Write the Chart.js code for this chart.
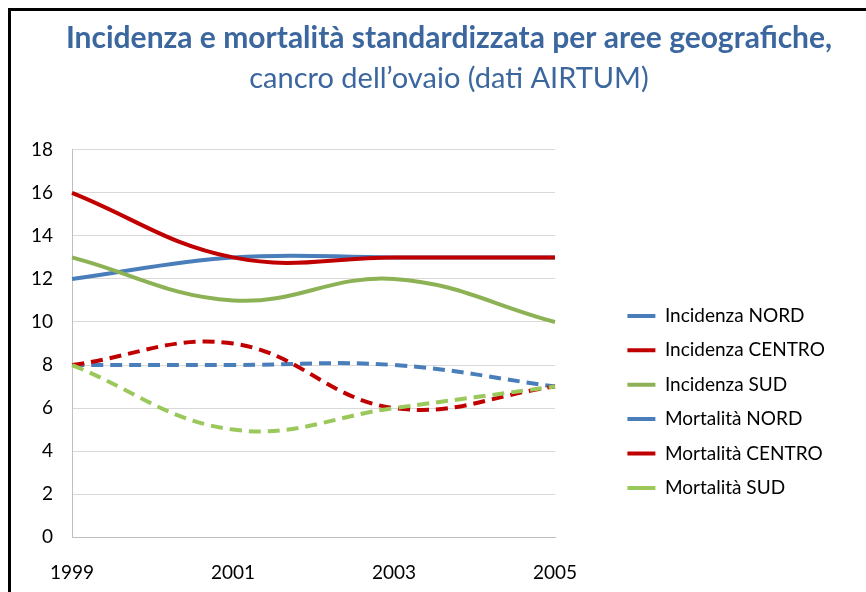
<!DOCTYPE html>
<html>
<head>
<meta charset="utf-8">
<script src="https://cdn.jsdelivr.net/npm/chart.js@4.4.1/dist/chart.umd.min.js"></script>
<style>
    html, body { margin: 0; padding: 0; background: #fff; }
    #wrap { position: relative; width: 866px; height: 592px; }
    #frame {
        position: absolute; left: 8px; top: 8px; right: -10px; bottom: -10px;
        border-left: 3px solid #000; border-top: 3px solid #000;
        pointer-events: none;
    }
</style>
</head>
<body>
<div id="wrap">
    <canvas id="lineChart" width="866" height="592"></canvas>
    <div id="frame"></div>
</div>
<script>
// Dati
const anni = ['1999', '2001', '2003', '2005'];
const incidenzaNord = [12, 13, 13, 13];
const incidenzaCentro = [16, 13, 13, 13];
const incidenzaSud = [13, 11, 12, 10];
const mortalitaNord = [8, 8, 8, 7];
const mortalitaCentro = [8, 9, 6, 7];
const mortalitaSud = [8, 5, 6, 7];

const BLU = '#4A7EBB';
const ROSSO = '#C00000';
const VERDE = '#8DB255';
const VERDE_CHIARO = '#9BC85A';

function serie(label, data, color, dash) {
    return {
        label: label,
        data: data,
        borderColor: color,
        backgroundColor: color,
        borderWidth: 4,
        borderDash: dash ? [12, 7] : [],
        pointRadius: 0,
        fill: false,
        tension: 0.4
    };
}

// in ordine inverso: come in Excel l'ultima serie sta sopra
const datasets = [
    serie('Mortalità SUD', mortalitaSud, VERDE_CHIARO, true),
    serie('Mortalità CENTRO', mortalitaCentro, ROSSO, true),
    serie('Mortalità NORD', mortalitaNord, BLU, true),
    serie('Incidenza SUD', incidenzaSud, VERDE, false),
    serie('Incidenza CENTRO', incidenzaCentro, ROSSO, false),
    serie('Incidenza NORD', incidenzaNord, BLU, false)
];

const font = 'Lato, "Open Sans", sans-serif';
const LEGENDA_X = 612; // bordo sinistro della legenda

// il titolo nel originale è centrato su tutta la cornice, non sull'area del grafico
const centraTitolo = {
    id: 'centraTitolo',
    afterLayout(chart) {
        chart.boxes.filter(b => b.position === 'top').forEach(b => {
            b.left = 32;
            b.right = 866;
            b.width = 834;
        });
    }
};

const config = {
    type: 'line',
    data: { labels: anni, datasets: datasets },
    options: {
        responsive: false,
        animation: false,
        layout: { padding: { left: 12, right: 20, top: 0, bottom: 8 } },
        plugins: {
            title: {
                display: true,
                text: 'Incidenza e mortalità standardizzata per aree geografiche,',
                color: '#3B679E',
                font: { family: font, size: 30, weight: 'bold' },
                padding: { top: 20, bottom: 0 }
            },
            subtitle: {
                display: true,
                text: 'cancro dell\u2019ovaio (dati AIRTUM)',
                color: '#3B679E',
                font: { family: font, size: 29 },
                padding: { top: 5, bottom: 54 }
            },
            legend: {
                position: 'right',
                align: 'start',
                reverse: true,
                maxWidth: 400,
                title: { display: true, text: ' ', font: { size: 10 }, padding: { top: 279, bottom: 0 } },
                labels: {
                    color: '#000',
                    font: { family: font, size: 19 },
                    usePointStyle: true,
                    pointStyle: 'line',
                    pointStyleWidth: 28,
                    padding: 15.4
                }
            },
            tooltip: { enabled: false }
        },
        scales: {
            x: {
                grid: { display: true, color: 'rgba(0,0,0,0)', drawTicks: true, tickLength: 24 },
                border: { display: true, color: '#BFBFBF' },
                ticks: { color: '#000', font: { family: font, size: 19 }, padding: 0, maxRotation: 0 }
            },
            y: {
                min: 0,
                max: 18,
                grid: { color: '#D9D9D9', drawTicks: false },
                border: { display: true, color: '#BFBFBF' },
                ticks: { color: '#000', font: { family: font, size: 19 }, padding: 19, stepSize: 2 }
            },
            spazio: {
                position: 'right',
                display: true,
                grid: { display: false },
                border: { display: false },
                ticks: { display: false },
                afterFit: function(scale) { scale.width = LEGENDA_X - 555; }
            }
        }
    },
    plugins: [centraTitolo]
};

window.onload = function() {
    const ctx = document.getElementById('lineChart').getContext('2d');
    const chart = new Chart(ctx, config);
    // sposta la legenda in modo che inizi a LEGENDA_X
    chart.options.layout.padding.right = 866 - LEGENDA_X - chart.legend.width;
    chart.update();
};
</script>
</body>
</html>
